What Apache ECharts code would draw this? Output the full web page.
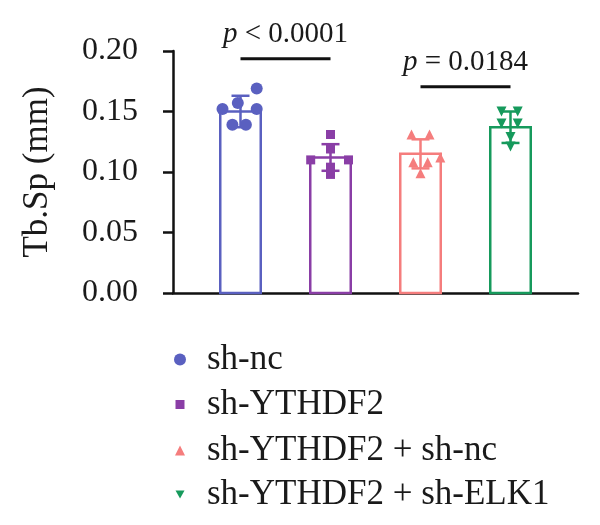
<!DOCTYPE html>
<html>
<head>
<meta charset="utf-8">
<script src="https://cdn.jsdelivr.net/npm/echarts@6/dist/echarts.min.js"></script>
<style>
  html, body { margin: 0; padding: 0; background: #fff; }
  #chart { width: 600px; height: 525px; }
</style>
</head>
<body>
<div id="chart"></div>
<script>
// groups and summary values
const groups = ["sh-nc", "sh-YTHDF2", "sh-YTHDF2 + sh-nc", "sh-YTHDF2 + sh-ELK1"];
const means = [0.150, 0.112, 0.115, 0.137];
const sds = [0.013, 0.011, 0.012, 0.013];

// individual points (value) and horizontal jitter (in category units)
const ncPoints = [0.169, 0.152, 0.157, 0.152, 0.139, 0.139];
const ncJitter = [0.18, -0.20, -0.03, 0.18, -0.09, 0.06];
const ythdf2Points = [0.131, 0.119, 0.110, 0.110, 0.104, 0.098];
const ythdf2Jitter = [0.0, 0.0, -0.22, 0.20, 0.0, 0.0];
const ythdf2NcPoints = [0.131, 0.131, 0.112, 0.108, 0.108, 0.099];
const ythdf2NcJitter = [-0.10, 0.10, 0.22, -0.08, 0.08, 0.0];
const elk1Points = [0.150, 0.150, 0.140, 0.140, 0.129, 0.121];
const elk1Jitter = [-0.10, 0.08, -0.10, 0.08, 0.0, 0.0];

// significance brackets
const sigPairs = [[0, 1], [2, 3]];
const sigLevels = [0.1935, 0.1705];
const sigTexts = ["< 0.0001", "= 0.0184"];

const yTicks = [0, 0.05, 0.10, 0.15, 0.20];

const colors = ["#5a60c0", "#8a3ea6", "#f57d7d", "#169a5c"];
const symbols = ["circle", "rect", "triangle", "path://M0,0 L10,0 L5,9 Z"];
const symbolSizes = [12, 9, 10, 10];
const allPoints = [ncPoints, ythdf2Points, ythdf2NcPoints, elk1Points];
const allJitter = [ncJitter, ythdf2Jitter, ythdf2NcJitter, elk1Jitter];

const font = "Liberation Serif";

function renderBar(params, api) {
  const i = api.value(0);
  const top = api.coord([i, api.value(1)]);
  const base = api.coord([i, 0]);
  const w = api.size([0.45, 0])[0];
  return {
    type: "rect",
    shape: { x: top[0] - w / 2, y: top[1], width: w, height: base[1] - top[1] },
    style: { fill: "#fff", stroke: colors[i], lineWidth: 2.5 },
  };
}

function renderErr(params, api) {
  const i = api.value(0);
  const m = api.value(1);
  const s = api.value(2);
  const hi = api.coord([i, m + s]);
  const lo = api.coord([i, m - s]);
  const cw = api.size([0.2, 0])[0];
  const st = { stroke: colors[i], lineWidth: 2.5 };
  return {
    type: "group",
    children: [
      { type: "line", shape: { x1: hi[0], y1: hi[1], x2: lo[0], y2: lo[1] }, style: st },
      { type: "line", shape: { x1: hi[0] - cw / 2, y1: hi[1], x2: hi[0] + cw / 2, y2: hi[1] }, style: st },
      { type: "line", shape: { x1: lo[0] - cw / 2, y1: lo[1], x2: lo[0] + cw / 2, y2: lo[1] }, style: st },
    ],
  };
}

function renderSig(params, api) {
  const a = api.coord([api.value(0), api.value(2)]);
  const b = api.coord([api.value(1), api.value(2)]);
  const k = params.dataIndex;
  return {
    type: "group",
    children: [
      { type: "line", shape: { x1: a[0], y1: a[1], x2: b[0], y2: b[1] }, style: { stroke: "#111", lineWidth: 3 } },
      {
        type: "text",
        style: {
          x: (a[0] + b[0]) / 2,
          y: a[1] - 24,
          text: "{i|p} " + sigTexts[k],
          align: "center",
          verticalAlign: "middle",
          fill: "#1a1a1a",
          font: "29px " + font,
          rich: { i: { fontStyle: "italic", fontSize: 29, fontFamily: font } },
        },
      },
    ],
  };
}

const scatterSeries = groups.map((g, i) => ({
  name: g,
  type: "scatter",
  symbol: symbols[i],
  symbolSize: symbolSizes[i],
  itemStyle: { color: colors[i], opacity: 1 },
  z: 4,
  data: allPoints[i].map((v, j) => [i + allJitter[i][j], v]),
}));

// legend layout: icon centred at x=180, text starting at x=207
const legendTops = [342, 387, 433, 477];
const legendIcon = [12, 9, 10, 9];

const option = {
  animation: false,
  grid: { left: 173, right: 22, top: 51, bottom: 232 },
  xAxis: {
    type: "value",
    min: -0.75,
    max: 3.75,
    axisLine: { onZero: false, lineStyle: { color: "#111", width: 2.5 } },
    axisTick: { show: false },
    axisLabel: { show: false },
    splitLine: { show: false },
  },
  yAxis: {
    type: "value",
    min: yTicks[0],
    max: yTicks[yTicks.length - 1],
    interval: yTicks[1] - yTicks[0],
    name: "Tb.Sp (mm)",
    nameLocation: "middle",
    nameGap: 118,
    nameTextStyle: { fontFamily: font, fontSize: 35, color: "#1a1a1a" },
    axisLine: { show: true, onZero: false, lineStyle: { color: "#111", width: 2.5 } },
    axisTick: { show: true, length: 10, lineStyle: { color: "#111", width: 2.5 } },
    axisLabel: {
      margin: 35,
      fontFamily: font,
      fontSize: 32,
      color: "#1a1a1a",
      formatter: (v) => v.toFixed(2),
    },
    splitLine: { show: false },
  },
  legend: groups.map((g, i) => ({
    data: [g],
    orient: "vertical",
    padding: 0,
    left: 180 - legendIcon[i] / 2,
    top: legendTops[i],
    itemWidth: legendIcon[i],
    itemHeight: legendIcon[i],
    selectedMode: false,
    textStyle: {
      fontFamily: font,
      fontSize: 35,
      color: "#1a1a1a",
      padding: [0, 0, 0, 207 - (180 + legendIcon[i] / 2 + 5)],
    },
  })),
  series: [
    {
      type: "custom",
      renderItem: renderBar,
      z: 1,
      data: means.map((m, i) => [i, m]),
    },
    {
      type: "custom",
      renderItem: renderErr,
      z: 3,
      data: means.map((m, i) => [i, m, sds[i]]),
    },
    ...scatterSeries,
    {
      type: "custom",
      renderItem: renderSig,
      z: 5,
      clip: false,
      data: sigPairs.map((p, k) => [p[0], p[1], sigLevels[k]]),
    },
  ],
};

const chart = echarts.init(document.getElementById("chart"));
chart.setOption(option);
</script>
</body>
</html>
